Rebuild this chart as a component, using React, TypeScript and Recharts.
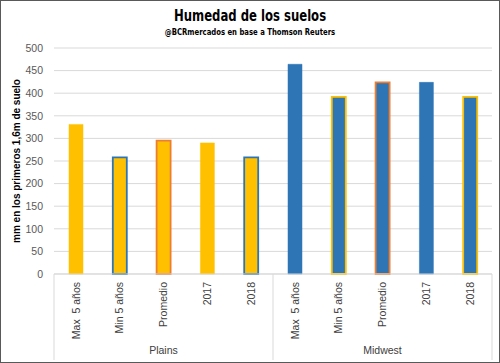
import React from 'react';
import { BarChart, Bar, XAxis, YAxis, CartesianGrid, Cell } from 'recharts';

const categories = ['Max  5 años', 'Min 5 años', 'Promedio', '2017', '2018'];
const regions = ['Plains', 'Midwest'];
const plainsValues = [331, 258, 295, 290, 258];
const midwestValues = [464, 392, 424, 424, 392];
const yTicks = [0, 50, 100, 150, 200, 250, 300, 350, 400, 450, 500];

const valuesByRegion = [plainsValues, midwestValues];

const rows = regions.flatMap((region, ri) =>
  categories.map((category, ci) => ({
    key: `${region}-${ci}`,
    category,
    region,
    ri,
    ci,
    value: valuesByRegion[ri][ci],
  }))
);

const YELLOW = '#FFC000';
const BLUE = '#2E75B6';
const ORANGE = '#ED7D31';
const regionFill = [YELLOW, BLUE];
// border colour per category for each region (null = same as fill)
const regionStroke = [
  [null, BLUE, ORANGE, null, BLUE],
  [null, YELLOW, ORANGE, null, YELLOW],
];

const GRID = '#D9D9D9';
const FONT = '"Liberation Sans", Arial, sans-serif';
const NARROW = '"Liberation Sans Narrow", "DejaVu Sans Condensed", sans-serif';

const CategoryTick = (props: any) => {
  const { x, y, payload, index } = props;
  const half = payload && typeof payload.offset === 'number' ? payload.offset : 21.9;
  const lines: number[] = [];
  if (index % categories.length === 0) lines.push(x - half);
  if (index === rows.length - 1) lines.push(x + half);
  return (
    <g>
      {lines.map((lx, i) => (
        <line key={i} x1={lx} x2={lx} y1={y} y2={y + 86} stroke={GRID} strokeWidth={1} />
      ))}
      <text
        transform={`translate(${x},${y + 8}) rotate(-90)`}
        textAnchor="end"
        dy="0.35em"
        fontSize={10.5}
        fontFamily={FONT}
        fill="#404040"
        style={{ whiteSpace: 'pre' }}
      >
        {payload.value}
      </text>
    </g>
  );
};

const RegionTick = (props: any) => {
  const { x, y, payload } = props;
  return (
    <text x={x} y={y + 3} dy="0.71em" textAnchor="middle" fontSize={10.5} fontFamily={FONT} fill="#404040">
      {payload.value}
    </text>
  );
};

export default function App() {
  return (
    <div style={{ position: 'absolute', left: 0, top: 0, width: 500, height: 363, background: '#fff' }}>
      <div
        style={{
          position: 'absolute',
          left: 0,
          top: 7,
          width: 500,
          textAlign: 'center',
          fontFamily: NARROW,
          fontWeight: 'bold',
          fontSize: 16,
          lineHeight: '18px',
          color: '#000',
          transform: 'scaleX(0.81)',
        }}
      >
        Humedad de los suelos
      </div>
      <div
        style={{
          position: 'absolute',
          left: 0,
          top: 27,
          width: 500,
          textAlign: 'center',
          fontFamily: NARROW,
          fontWeight: 'bold',
          fontSize: 8.5,
          lineHeight: '10px',
          color: '#000',
          transform: 'scaleX(0.9)',
        }}
      >
        @BCRmercados en base a Thomson Reuters
      </div>
      <div
        style={{
          position: 'absolute',
          left: 17,
          top: 161,
          transform: 'translate(-50%, -50%) rotate(-90deg)',
          whiteSpace: 'nowrap',
          fontFamily: FONT,
          fontWeight: 'bold',
          fontSize: 10,
          lineHeight: '12px',
          color: '#000',
        }}
      >
        mm en los primeros 1,6m de suelo
      </div>
      <div style={{ position: 'absolute', left: 0, top: 0 }}>
        <BarChart
          width={500}
          height={363}
          data={rows}
          margin={{ top: 48, right: 8, bottom: 2, left: 0 }}
          barCategoryGap={0}
        >
          <CartesianGrid vertical={false} stroke={GRID} />
          <XAxis
            dataKey="category"
            interval={0}
            height={70}
            tickLine={false}
            tickSize={0}
            tickMargin={0}
            axisLine={{ stroke: GRID }}
            tick={<CategoryTick />}
          />
          <XAxis
            xAxisId="region"
            dataKey="region"
            allowDuplicatedCategory={false}
            interval={0}
            height={17}
            tickLine={false}
            tickSize={0}
            tickMargin={0}
            axisLine={false}
            tick={<RegionTick />}
          />
          <YAxis
            width={54}
            domain={[0, 500]}
            ticks={yTicks}
            interval={0}
            tickLine={false}
            axisLine={false}
            tickSize={0}
            tickMargin={11}
            tick={{ fontSize: 10.5, fill: '#595959', fontFamily: FONT }}
          />
          <Bar dataKey="value" barSize={14} isAnimationActive={false}>
            {rows.map((r) => {
              const s = regionStroke[r.ri][r.ci];
              return (
                <Cell
                  key={r.key}
                  fill={regionFill[r.ri]}
                  stroke={s ?? regionFill[r.ri]}
                  strokeWidth={s ? 1.8 : 0.5}
                />
              );
            })}
          </Bar>
        </BarChart>
      </div>
      <div
        style={{
          position: 'absolute',
          left: 0,
          top: 0,
          width: 500,
          height: 363,
          boxSizing: 'border-box',
          border: '1px solid #595959',
          pointerEvents: 'none',
        }}
      />
    </div>
  );
}
